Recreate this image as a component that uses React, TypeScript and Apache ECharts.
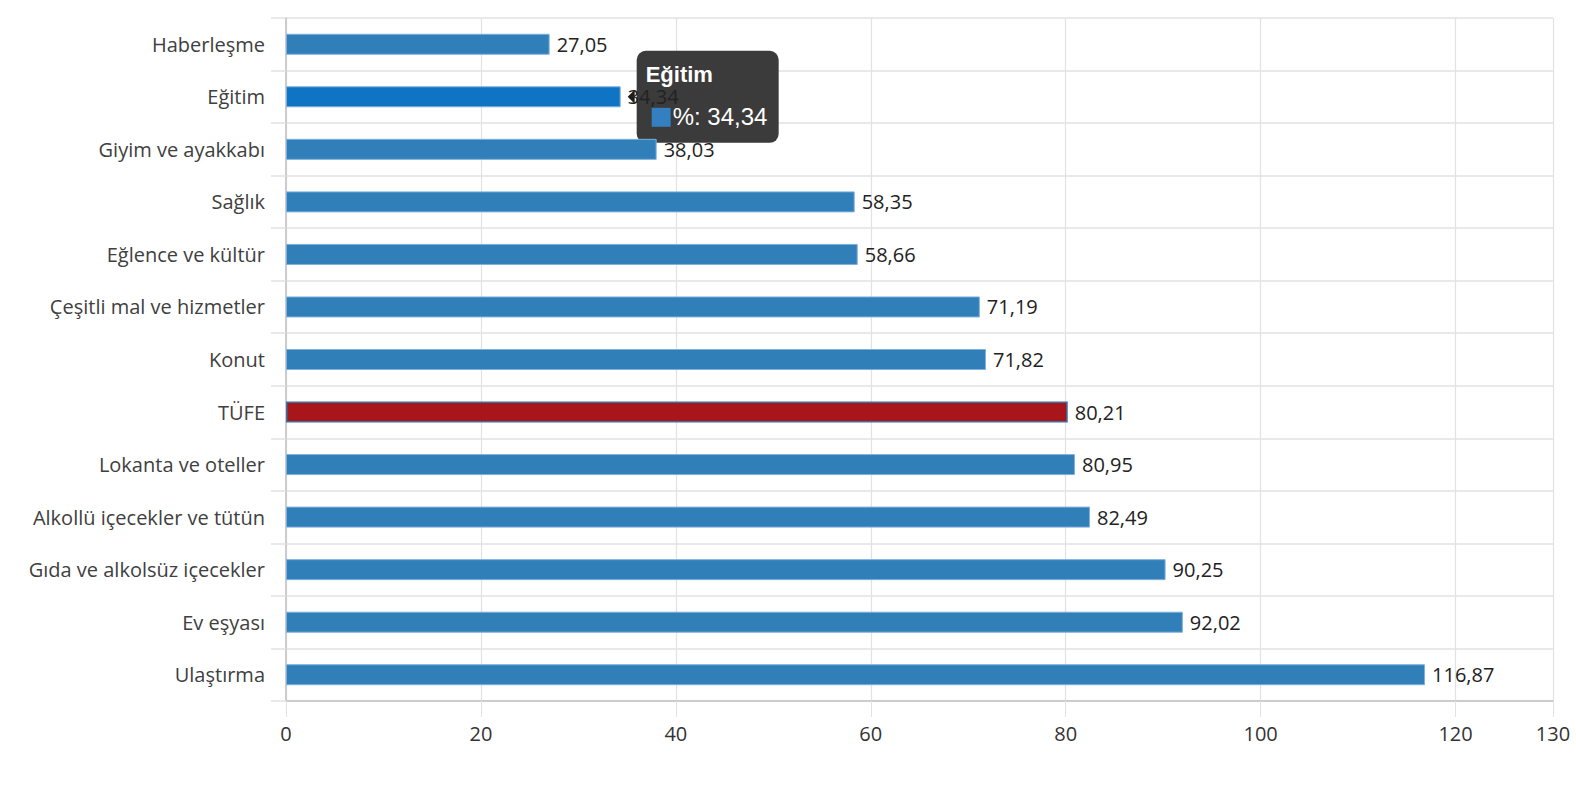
import React, { useEffect, useRef } from "react";
import * as echarts from "echarts";

const categories = [
  "Haberleşme",
  "Eğitim",
  "Giyim ve ayakkabı",
  "Sağlık",
  "Eğlence ve kültür",
  "Çeşitli mal ve hizmetler",
  "Konut",
  "TÜFE",
  "Lokanta ve oteller",
  "Alkollü içecekler ve tütün",
  "Gıda ve alkolsüz içecekler",
  "Ev eşyası",
  "Ulaştırma",
];
const values = [27.05, 34.34, 38.03, 58.35, 58.66, 71.19, 71.82, 80.21, 80.95, 82.49, 90.25, 92.02, 116.87];
const highlightCategory = "TÜFE";
const tooltipIndex = 1;
const seriesName = "%";

const fmt = (v: number) => v.toFixed(2).replace(".", ",");

export default function App() {
  const ref = useRef<HTMLDivElement>(null);
  useEffect(() => {
    document.body.style.margin = "0";
    document.body.style.overflow = "hidden";
    document.documentElement.style.overflow = "hidden";
    if (!ref.current) return;
    const chart = echarts.init(ref.current, undefined, { renderer: "svg" });
    const data = categories.map((c, i) =>
      c === highlightCategory
        ? {
            value: values[i],
            itemStyle: { color: "#a8151b", borderColor: "#3d6fa0", borderWidth: 1.5 },
          }
        : values[i]
    );
    chart.setOption({
      animation: false,
      textStyle: { fontFamily: "'Open Sans', 'Noto Sans', sans-serif" },
      grid: { left: 286, right: 23, top: 18, bottom: 99, containLabel: false },
      xAxis: {
        type: "value",
        min: 0,
        max: 130,
        interval: 20,
        axisLine: { show: true, onZero: false, lineStyle: { color: "#cccccc", width: 2 } },
        axisTick: { show: true, length: 16, lineStyle: { color: "#e2e2e2" } },
        splitLine: { show: true, lineStyle: { color: "#e2e2e2", width: 1.2 } },
        axisLabel: { color: "#333", fontSize: 20, margin: 22, showMaxLabel: true },
      },
      yAxis: {
        type: "category",
        inverse: true,
        data: categories,
        axisLine: { show: true, lineStyle: { color: "#cccccc", width: 2 } },
        axisTick: { show: true, length: 15, lineStyle: { color: "#e2e2e2", width: 1.5 } },
        splitLine: { show: true, interval: 0, lineStyle: { color: "#e2e2e2", width: 1.5 } },
        axisLabel: { color: "#404040", fontSize: 20, margin: 21, interval: 0 },
      },
      series: [
        {
          type: "bar",
          name: seriesName,
          data,
          barWidth: 21,
          z: 3,
          itemStyle: { color: "#317fb9", borderColor: "#7fb0dc", borderWidth: 1 },
          emphasis: { itemStyle: { color: "#0f74c4", borderColor: "#7fb0dc" } },
          label: {
            show: true,
            position: "right",
            distance: 7,
            color: "#222",
            fontSize: 20,
            formatter: (p: any) => fmt(p.value),
          },
        },
      ],
    });

    // Tooltip drawn as a graphic box, anchored to the hovered bar's end via the chart's own scales
    const end = chart.convertToPixel({ seriesIndex: 0 }, [values[tooltipIndex], tooltipIndex]) as number[];
    const bx = end[0] + 16;
    const by = end[1] - 46;
    const bw = 142;
    const bh = 92;
    chart.setOption({
      graphic: [
        {
          type: "group",
          z: 1,
          children: [
            {
              type: "rect",
              shape: { x: bx, y: by, width: bw, height: bh, r: 9 },
              style: { fill: "rgba(51,51,51,0.96)" },
              z: 1,
            },
            {
              type: "polygon",
              shape: {
                points: [
                  [bx - 9, end[1]],
                  [bx - 2, end[1] - 7],
                  [bx - 2, end[1] + 7],
                ],
              },
              style: { fill: "#1c1c1c" },
              z: 1,
            },
            {
              type: "text",
              x: bx + 9,
              y: by + 24,
              z: 1,
              style: {
                text: categories[tooltipIndex],
                fill: "#fff",
                font: "bold 22px 'Liberation Sans', Arial, sans-serif",
                textVerticalAlign: "middle",
                verticalAlign: "middle",
              },
            },
            {
              type: "rect",
              shape: { x: bx + 15, y: by + 57, width: 19, height: 19 },
              style: { fill: "#337fbf" },
              z: 1,
            },
            {
              type: "text",
              x: bx + 36,
              y: by + 66,
              z: 1,
              style: {
                text: `${seriesName}: ${fmt(values[tooltipIndex])}`,
                fill: "#fff",
                font: "24px 'Liberation Sans', Arial, sans-serif",
                textVerticalAlign: "middle",
                verticalAlign: "middle",
              },
            },
          ],
        },
      ],
    });
    chart.dispatchAction({ type: "highlight", seriesIndex: 0, dataIndex: tooltipIndex });
    return () => chart.dispose();
  }, []);
  return <div ref={ref} style={{ width: 1576, height: 800 }} />;
}
